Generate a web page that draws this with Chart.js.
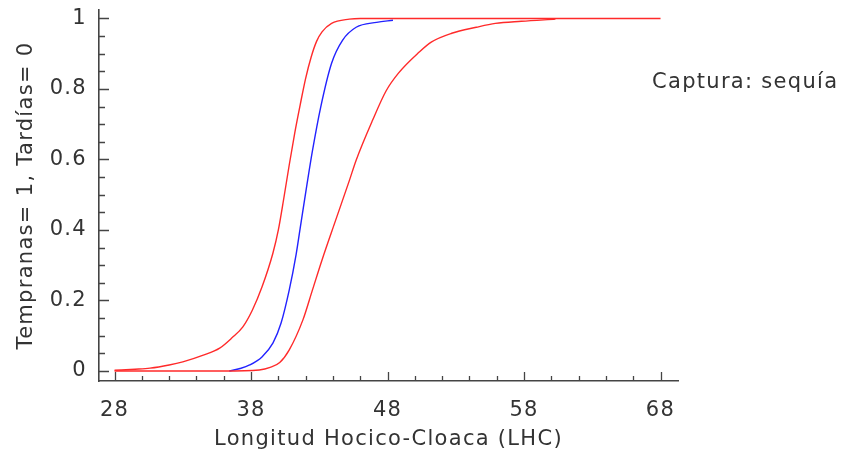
<!DOCTYPE html>
<html>
<head>
<meta charset="utf-8">
<script src="https://cdn.jsdelivr.net/npm/chart.js@4/dist/chart.umd.min.js"></script>
<style>
  html, body { margin: 0; padding: 0; background: #ffffff; }
  #wrap { width: 843px; height: 454px; position: relative; }
</style>
</head>
<body>
<div id="wrap"><canvas id="c" width="843" height="454"></canvas></div>
<script>
// ---- data ----
const upperX = [28, 29.5, 30.6, 32, 33.0, 34.5, 35.7, 36.6, 37.4, 38.1, 38.8, 39.6, 40.0, 40.4, 40.8, 41.2, 41.6, 42.0, 42.4, 42.8, 43.2, 43.9, 45.2, 46, 68];
const upperY = [0.002, 0.005, 0.008, 0.017, 0.026, 0.045, 0.065, 0.094, 0.125, 0.173, 0.238, 0.334, 0.40, 0.49, 0.585, 0.675, 0.755, 0.83, 0.89, 0.935, 0.962, 0.986, 0.998, 1.0, 1.0];

const fitX = [36.4, 37.2, 37.9, 38.8, 39.6, 40.2, 40.8, 41.3, 41.6, 42.1, 42.5, 43.1, 43.9, 44.7, 45.7, 47.2, 48.4];
const fitY = [0.0, 0.007, 0.017, 0.04, 0.079, 0.136, 0.23, 0.33, 0.405, 0.53, 0.625, 0.748, 0.873, 0.938, 0.975, 0.989, 0.995];

const lowerX = [28, 32, 36, 38.6, 39.4, 40.1, 40.8, 41.8, 42.5, 43.2, 44.2, 45.2, 45.7, 46.9, 47.9, 48.8, 50.3, 51.2, 52.7, 54.5, 55.9, 57.8, 60.3];
const lowerY = [0.0, 0.0, 0.0, 0.003, 0.01, 0.024, 0.06, 0.145, 0.23, 0.315, 0.428, 0.54, 0.598, 0.711, 0.795, 0.845, 0.904, 0.933, 0.958, 0.975, 0.986, 0.992, 0.998];

const xTickValues = [28, 30, 32, 34, 36, 38, 40, 42, 44, 46, 48, 50, 52, 54, 56, 58, 60, 62, 64, 66, 68];
const xTickLabels = ["28", "38", "48", "58", "68"];
const yTickValues = [0, 0.05, 0.1, 0.15, 0.2, 0.25, 0.3, 0.35, 0.4, 0.45, 0.5, 0.55, 0.6, 0.65, 0.7, 0.75, 0.8, 0.85, 0.9, 0.95, 1];
const yTickLabels = ["0", "0.2", "0.4", "0.6", "0.8", "1"];

const xTitle = "Longitud Hocico-Cloaca (LHC)";
const yTitle = "Tempranas= 1, Tardías= 0";
const caption = "Captura: sequía";

const FONT = "'DejaVu Sans', sans-serif";
const TEXT = "#333333";
const AXIS = "#444444";
const SPACING = "1.3px";

function pts(xs, ys) { return xs.map((x, i) => ({ x: x, y: ys[i] })); }
function fmtY(v) { return String(Math.round(v * 10) / 10); }
function isMajorY(v) { return yTickLabels.indexOf(fmtY(v)) >= 0 && Math.abs(v * 5 - Math.round(v * 5)) < 1e-6; }
function isMajorX(v) { return xTickLabels.indexOf(String(v)) >= 0; }

const spacing = {
  id: 'spacing',
  beforeUpdate(chart) { chart.ctx.letterSpacing = SPACING; },
  beforeLayout(chart) { chart.ctx.letterSpacing = SPACING; },
  beforeDraw(chart) { chart.ctx.letterSpacing = SPACING; }
};

const tickMarks = {
  id: 'tickMarks',
  afterDraw(chart) {
    const ctx = chart.ctx, xs = chart.scales.x, ys = chart.scales.y;
    const ca = chart.chartArea;
    ctx.save();
    ctx.strokeStyle = AXIS;
    ctx.lineWidth = 1.3;
    ctx.beginPath();
    xs.ticks.forEach(t => {
      const px = Math.round(xs.getPixelForValue(t.value)) + 0.5;
      const len = isMajorX(t.value) ? 9 : 5;
      ctx.moveTo(px, ca.bottom);
      ctx.lineTo(px, ca.bottom - len);
    });
    ys.ticks.forEach(t => {
      const py = Math.round(ys.getPixelForValue(t.value)) + 0.5;
      const len = isMajorY(t.value) ? 10 : 6;
      ctx.moveTo(ca.left, py);
      ctx.lineTo(ca.left + len, py);
    });
    ctx.stroke();
    // caption
    ctx.letterSpacing = SPACING;
    ctx.fillStyle = TEXT;
    ctx.font = "21px " + FONT;
    ctx.textAlign = "left";
    ctx.textBaseline = "middle";
    ctx.fillText(caption, 652, 83);
    ctx.restore();
  }
};

new Chart(document.getElementById('c'), {
  type: 'line',
  data: {
    datasets: [
      { data: pts(upperX, upperY), borderColor: '#ff2a2a', borderWidth: 1.4, pointRadius: 0, cubicInterpolationMode: 'monotone', fill: false },
      { data: pts(lowerX, lowerY), borderColor: '#ff2a2a', borderWidth: 1.4, pointRadius: 0, cubicInterpolationMode: 'monotone', fill: false },
      { data: pts(fitX, fitY), borderColor: '#2222ff', borderWidth: 1.4, pointRadius: 0, cubicInterpolationMode: 'monotone', fill: false }
    ]
  },
  options: {
    responsive: false,
    animation: false,
    events: [],
    layout: { padding: { left: 0, right: 165, top: 0, bottom: 0 } },
    plugins: { legend: { display: false }, tooltip: { enabled: false } },
    scales: {
      x: {
        type: 'linear',
        min: 26.86,
        max: 69.28,
        afterBuildTicks: s => { s.ticks = xTickValues.map(v => ({ value: v })); },
        afterFit: s => { s.height = 73; s.paddingLeft = 0; s.paddingRight = 0; },
        grid: { display: true, drawOnChartArea: false, drawTicks: false },
        border: { display: true, color: AXIS, width: 1.6 },
        ticks: {
          autoSkip: false, maxRotation: 0, padding: 17,
          color: TEXT, font: { family: FONT, size: 21 },
          callback: v => isMajorX(v) ? String(v) : ''
        },
        title: { display: true, text: xTitle, color: TEXT, font: { family: FONT, size: 21 }, padding: { top: 0, bottom: 2 } }
      },
      y: {
        type: 'linear',
        min: -0.0284,
        max: 1.024,
        afterBuildTicks: s => { s.ticks = yTickValues.map(v => ({ value: v })); },
        afterFit: s => { s.width = 99; s.paddingTop = 10; s.paddingBottom = 0; },
        grid: { display: true, drawOnChartArea: false, drawTicks: false },
        border: { display: true, color: AXIS, width: 1.6 },
        ticks: {
          autoSkip: false, padding: 12,
          color: TEXT, font: { family: FONT, size: 21 },
          callback: v => isMajorY(v) ? fmtY(v) : ''
        },
        title: { display: true, text: yTitle, color: TEXT, font: { family: FONT, size: 21 }, padding: { top: 14, bottom: 0 } }
      }
    }
  },
  plugins: [spacing, tickMarks]
});
</script>
</body>
</html>
